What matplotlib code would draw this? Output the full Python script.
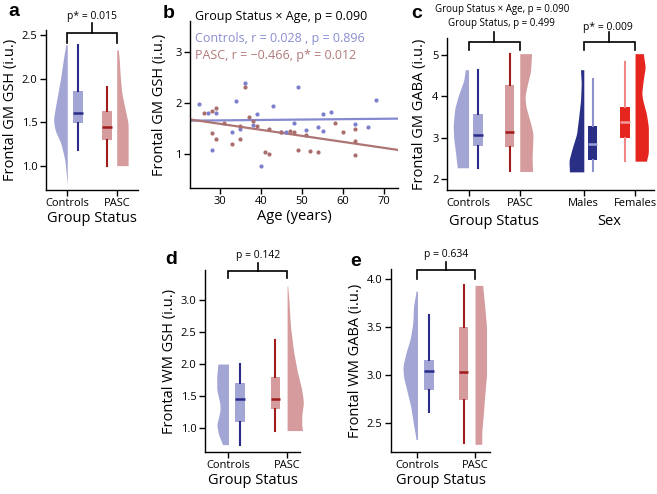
import numpy as np
import matplotlib
matplotlib.use('Agg')
import matplotlib.pyplot as plt

plt.rcParams['font.family'] = ['Open Sans', 'DejaVu Sans']
plt.rcParams['axes.linewidth'] = 1.0

# ---------------- data ----------------
groups = ['Controls', 'PASC']
sex_groups = ['Males', 'Females']

# panel a: frontal GM GSH
a_ctrl_vy = [0.79, 1.07, 1.26, 1.41, 1.53, 1.64, 1.83, 2.02, 2.22, 2.39]
a_ctrl_vw = [0.0, 0.05, 0.13, 0.25, 0.28, 0.25, 0.19, 0.13, 0.08, 0.03]
a_pasc_vy = [1.0, 1.18, 1.38, 1.49, 1.65, 1.84, 2.03, 2.23, 2.33]
a_pasc_vw = [0.23, 0.23, 0.23, 0.23, 0.17, 0.10, 0.07, 0.05, 0.03]
a_ctrl_box = [1.18, 1.49, 1.60, 1.86, 2.39]   # whislo, q1, med, q3, whishi
a_pasc_box = [1.00, 1.30, 1.45, 1.63, 1.91]

# panel b: GSH vs age
ctrl_age = [25, 27, 28, 29, 33, 34, 35, 36, 38, 39, 40, 43, 45, 46, 48, 49,
            51, 54, 55, 55, 57, 63, 66, 68]
ctrl_gsh = [1.97, 1.80, 1.08, 1.80, 1.42, 2.03, 1.48, 2.38, 1.57, 1.77, 0.76,
            1.93, 1.43, 1.43, 1.60, 2.31, 1.47, 1.53, 1.45, 1.77, 1.82, 1.59,
            1.53, 2.05]
pasc_age = [26, 28, 28, 29, 29, 31, 33, 35, 35, 36, 37, 38, 39, 41, 42, 42,
            45, 47, 48, 49, 51, 52, 54, 58, 60, 63, 63, 63]
pasc_gsh = [1.80, 1.84, 1.41, 1.90, 1.29, 1.60, 1.19, 1.28, 1.55, 2.31, 1.72,
            1.64, 1.54, 1.04, 1.00, 1.48, 1.42, 1.45, 1.42, 1.07, 1.37, 1.05,
            1.03, 1.61, 1.43, 1.49, 1.26, 0.97]

# panel c: frontal GM GABA
c_ctrl_vy = [2.27, 2.6, 3.0, 3.3, 3.7, 4.0, 4.4, 4.65]
c_ctrl_vw = [0.22, 0.25, 0.29, 0.30, 0.27, 0.205, 0.09, 0.065]
c_pasc_vy = [2.18, 2.5, 2.8, 3.1, 3.4, 3.75, 4.0, 4.3, 4.6, 5.04]
c_pasc_vw = [0.25, 0.24, 0.25, 0.26, 0.20, 0.12, 0.10, 0.15, 0.21, 0.23]
c_male_vy = [2.17, 2.45, 2.77, 3.09, 3.50, 3.90, 4.31, 4.65]
c_male_vw = [0.28, 0.29, 0.22, 0.14, 0.10, 0.064, 0.05, 0.064]
c_fem_vy = [2.43, 2.62, 2.95, 3.27, 3.59, 3.91, 4.08, 4.40, 4.72, 5.04]
c_fem_vw = [0.22, 0.26, 0.26, 0.26, 0.22, 0.15, 0.13, 0.16, 0.20, 0.16]
c_ctrl_box = [2.27, 2.81, 3.07, 3.57, 4.65]
c_pasc_box = [2.18, 2.78, 3.15, 4.28, 5.04]
c_male_box = [2.18, 2.45, 2.84, 3.28, 4.42]
c_fem_box = [2.43, 2.99, 3.38, 3.75, 4.84]

# panel d: frontal WM GSH
d_ctrl_vy = [0.74, 0.9, 1.05, 1.2, 1.3, 1.4, 1.6, 1.8, 2.0]
d_ctrl_vw = [0.10, 0.17, 0.20, 0.16, 0.14, 0.15, 0.20, 0.20, 0.18]
d_pasc_vy = [0.96, 1.0, 1.2, 1.4, 1.6, 1.9, 2.2, 2.6, 3.0, 3.22]
d_pasc_vw = [0.27, 0.25, 0.25, 0.28, 0.25, 0.17, 0.11, 0.056, 0.03, 0.01]
d_ctrl_box = [0.74, 1.10, 1.46, 1.70, 2.00]
d_pasc_box = [0.96, 1.29, 1.46, 1.79, 2.38]

# panel e: frontal WM GABA
e_ctrl_vy = [2.33, 2.49, 2.67, 2.84, 2.98, 3.09, 3.23, 3.37, 3.54, 3.71, 3.87]
e_ctrl_vw = [0.023, 0.07, 0.116, 0.185, 0.243, 0.254, 0.2, 0.127, 0.08, 0.07, 0.023]
e_pasc_vy = [2.28, 2.4, 2.6, 2.8, 3.0, 3.2, 3.5, 3.7, 3.93]
e_pasc_vw = [0.116, 0.116, 0.145, 0.17, 0.2, 0.2, 0.2, 0.17, 0.133]
e_ctrl_box = [2.62, 2.84, 3.04, 3.16, 3.62]
e_pasc_box = [2.29, 2.74, 3.03, 3.50, 3.93]

# ---------------- colours ----------------
CTRL = '#a3a5d5'
CTRL_DARK = '#2b2c8a'
PASC = '#d59b9d'
PASC_DARK = '#a11c1c'
MALE = '#2a2f86'
MALE_LIGHT = '#9a9ed8'
FEM = '#e4261f'
FEM_LIGHT = '#f39b98'
CTRL_PT = '#7d80cc'
PASC_PT = '#a96e6d'
CTRL_TXT = '#8a8dd0'
PASC_TXT = '#b07a78'

TICK_FS = 8
LABEL_FS = 10.5


def half_violin(ax, pos, ys, ws, side, color):
    yy = np.linspace(ys[0], ys[-1], 200)
    ww = np.interp(yy, ys, ws)
    k = np.ones(11) / 11
    ww = np.convolve(np.pad(ww, 5, mode='edge'), k, mode='valid')
    if side == 'left':
        ax.fill_betweenx(yy, pos - ww, pos, color=color, lw=0, clip_on=False)
    else:
        ax.fill_betweenx(yy, pos, pos + ww, color=color, lw=0, clip_on=False)


def box(ax, pos, stats, width, face, med_c, whis_c):
    st = dict(whislo=stats[0], q1=stats[1], med=stats[2], q3=stats[3],
              whishi=stats[4], fliers=[])
    ax.bxp([st], positions=[pos], widths=width, patch_artist=True,
           showcaps=False, showfliers=False,
           boxprops=dict(facecolor=face, edgecolor=face, lw=0),
           medianprops=dict(color=med_c, lw=1.8, solid_capstyle='butt'),
           whiskerprops=dict(color=whis_c, lw=1.5))


def bracket(ax, x0, x1, ylo, yhi, ytop):
    xm = (x0 + x1) / 2
    ax.plot([x0, x0, x1, x1], [ylo, yhi, yhi, ylo], color='black', lw=1.2,
            clip_on=False, solid_joinstyle='miter')
    ax.plot([xm, xm], [yhi, ytop], color='black', lw=1.2, clip_on=False)


def style(ax):
    for s in ['top', 'right']:
        ax.spines[s].set_visible(False)
    ax.tick_params(direction='out', length=4, width=1, labelsize=TICK_FS,
                   pad=2)


W, H = 657, 494


def add_ax(x0, y0, x1, y1):
    return fig.add_axes([x0 / W, 1 - y1 / H, (x1 - x0) / W, (y1 - y0) / H])


fig = plt.figure(figsize=(6.57, 4.94), dpi=100)

# ---------------- panel a ----------------
ax = add_ax(46, 30, 138, 190)
style(ax)
half_violin(ax, 0, a_ctrl_vy, a_ctrl_vw, 'left', CTRL)
box(ax, 0.21, a_ctrl_box, 0.2, CTRL, CTRL_DARK, CTRL_DARK)
box(ax, 0.81, a_pasc_box, 0.2, PASC, PASC_DARK, PASC_DARK)
half_violin(ax, 1, a_pasc_vy, a_pasc_vw, 'right', PASC)
ax.set_xlim(-0.43, 1.43)
ax.set_ylim(0.72, 2.56)
ax.set_yticks([1.0, 1.5, 2.0, 2.5])
ax.set_yticklabels(['1.0', '1.5', '2.0', '2.5'])
ax.set_xticks([0, 1])
ax.set_xticklabels(groups)
ax.set_xlabel('Group Status', fontsize=LABEL_FS, labelpad=1)
ax.set_ylabel('Frontal GM GSH (i.u.)', fontsize=LABEL_FS, labelpad=3)
bracket(ax, 0, 1, 2.41, 2.53, 2.64)
ax.text(0.5, 2.72, 'p* = 0.015', ha='center', va='center', fontsize=7.5)

# ---------------- panel b ----------------
ax = add_ax(190, 21, 398, 188)
style(ax)
ax.set_xlim(22.7, 73.4)
ax.set_ylim(0.33, 3.6)
ax.scatter(ctrl_age, ctrl_gsh, s=9, color=CTRL_PT, lw=0, zorder=3)
ax.scatter(pasc_age, pasc_gsh, s=9, color=PASC_PT, lw=0, zorder=3)
xs = np.array(ax.get_xlim())
for age, val, col in [(ctrl_age, ctrl_gsh, '#8589d0'),
                      (pasc_age, pasc_gsh, '#ad7573')]:
    m, c0 = np.polyfit(age, val, 1)
    ax.plot(xs, m * xs + c0, color=col, lw=1.6, zorder=2)
ax.set_xlim(22.7, 73.4)
ax.set_xticks([30, 40, 50, 60, 70])
ax.set_yticks([1, 2, 3])
ax.set_xlabel('Age (years)', fontsize=LABEL_FS, labelpad=1)
ax.set_ylabel('Frontal GM GSH (i.u.)', fontsize=LABEL_FS, labelpad=6)
ax.text(0.024, 1.024, 'Group Status \u00d7 Age, p = 0.090', transform=ax.transAxes,
        fontsize=9, va='center', ha='left')
ax.text(0.024, 0.898, 'Controls, r = 0.028 , p = 0.896', transform=ax.transAxes,
        fontsize=9, va='center', ha='left', color=CTRL_TXT)
ax.text(0.024, 0.796, 'PASC, r = \u22120.466, p* = 0.012', transform=ax.transAxes,
        fontsize=9, va='center', ha='left', color=PASC_TXT)

# ---------------- panel c ----------------
ax = add_ax(447, 38, 654, 190)
style(ax)
pos = [0, 1, 2.25, 3.25]
half_violin(ax, pos[0], c_ctrl_vy, c_ctrl_vw, 'left', CTRL)
box(ax, pos[0] + 0.18, c_ctrl_box, 0.19, CTRL, CTRL_DARK, CTRL_DARK)
box(ax, pos[1] - 0.2, c_pasc_box, 0.19, PASC, PASC_DARK, PASC_DARK)
half_violin(ax, pos[1], c_pasc_vy, c_pasc_vw, 'right', PASC)
half_violin(ax, pos[2], c_male_vy, c_male_vw, 'left', MALE)
box(ax, pos[2] + 0.17, c_male_box, 0.19, MALE, MALE_LIGHT, '#8d91d0')
box(ax, pos[3] - 0.2, c_fem_box, 0.19, FEM, FEM_LIGHT, '#f08787')
half_violin(ax, pos[3], c_fem_vy, c_fem_vw, 'right', FEM)
ax.set_xlim(-0.42, 3.62)
ax.set_ylim(1.73, 5.42)
ax.set_yticks([2, 3, 4, 5])
ax.set_xticks(pos)
ax.set_xticklabels(groups + sex_groups)
ax.set_ylabel('Frontal GM GABA (i.u.)', fontsize=LABEL_FS, labelpad=4)
ax.text(0.5, -0.21, 'Group Status', transform=ax.get_xaxis_transform(),
        ha='center', va='center', fontsize=LABEL_FS)
ax.text(2.75, -0.21, 'Sex', transform=ax.get_xaxis_transform(),
        ha='center', va='center', fontsize=LABEL_FS)
bracket(ax, 0, 1, 5.12, 5.32, 5.57)
bracket(ax, 2.25, 3.25, 5.12, 5.32, 5.57)
ax.text(0.65, 6.12, 'Group Status \u00d7 Age, p = 0.090', ha='center',
        va='center', fontsize=7)
ax.text(0.65, 5.78, 'Group Status, p = 0.499', ha='center', va='center',
        fontsize=7)
ax.text(2.72, 5.68, 'p* = 0.009', ha='center', va='center', fontsize=7.5)

# ---------------- panel d ----------------
ax = add_ax(205, 270, 300, 452)
style(ax)
half_violin(ax, 0, d_ctrl_vy, d_ctrl_vw, 'left', CTRL)
box(ax, 0.2, d_ctrl_box, 0.165, CTRL, CTRL_DARK, CTRL_DARK)
box(ax, 0.8, d_pasc_box, 0.165, PASC, PASC_DARK, PASC_DARK)
half_violin(ax, 1, d_pasc_vy, d_pasc_vw, 'right', PASC)
ax.set_xlim(-0.4, 1.22)
ax.set_ylim(0.625, 3.47)
ax.set_yticks([1.0, 1.5, 2.0, 2.5, 3.0])
ax.set_yticklabels(['1.0', '1.5', '2.0', '2.5', '3.0'])
ax.set_xticks([0, 1])
ax.set_xticklabels(groups)
ax.set_xlabel('Group Status', fontsize=LABEL_FS, labelpad=1)
ax.set_ylabel('Frontal WM GSH (i.u.)', fontsize=LABEL_FS, labelpad=3)
bracket(ax, 0, 1, 3.34, 3.46, 3.58)
ax.text(0.5, 3.70, 'p = 0.142', ha='center', va='center', fontsize=7.5)

# ---------------- panel e ----------------
ax = add_ax(391, 269, 490, 452)
style(ax)
half_violin(ax, 0, e_ctrl_vy, e_ctrl_vw, 'left', CTRL)
box(ax, 0.2, e_ctrl_box, 0.16, CTRL, CTRL_DARK, CTRL_DARK)
box(ax, 0.8, e_pasc_box, 0.16, PASC, PASC_DARK, PASC_DARK)
half_violin(ax, 1, e_pasc_vy, e_pasc_vw, 'right', PASC)
ax.set_xlim(-0.46, 1.26)
ax.set_ylim(2.2, 4.1)
ax.set_yticks([2.5, 3.0, 3.5, 4.0])
ax.set_yticklabels(['2.5', '3.0', '3.5', '4.0'])
ax.set_xticks([0, 1])
ax.set_xticklabels(groups)
ax.set_xlabel('Group Status', fontsize=LABEL_FS, labelpad=1)
ax.set_ylabel('Frontal WM GABA (i.u.)', fontsize=LABEL_FS, labelpad=3)
bracket(ax, 0, 1, 4.0, 4.09, 4.17)
ax.text(0.5, 4.25, 'p = 0.634', ha='center', va='center', fontsize=7.5)

# ---------------- panel letters ----------------
for lab, px, py in [('a', 8, 12), ('b', 163, 13), ('c', 411, 13),
                    ('d', 165, 260), ('e', 350, 262)]:
    fig.text(px / W, 1 - py / H, lab, fontsize=14, fontweight='bold',
             family='Liberation Sans', ha='left', va='center')

fig.savefig('out.png', dpi=100)
